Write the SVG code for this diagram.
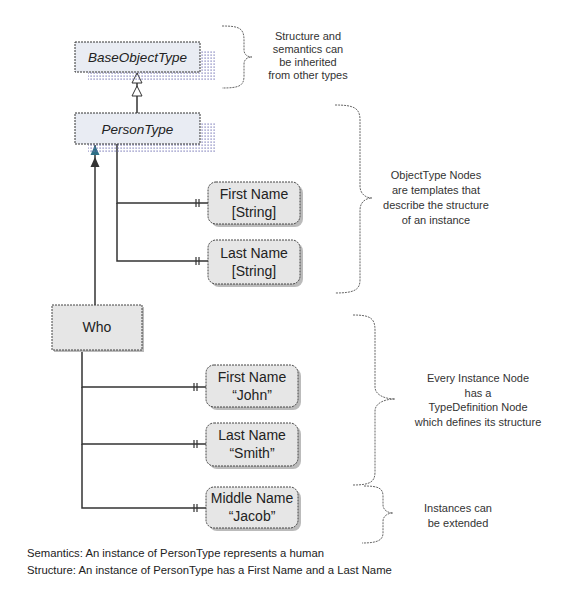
<svg xmlns="http://www.w3.org/2000/svg" width="571" height="592" viewBox="0 0 571 592">
<style>
.bg{fill:#ffffff}
.type{fill:#e9ecf3;stroke:#333;stroke-width:1;stroke-dasharray:2 1}
.inst{fill:#e6e6e6;stroke:#444;stroke-width:1;stroke-dasharray:2 1}
.ishadow{fill:#bbbbbb}
.tshadow{fill:url(#dots)}
.conn{fill:none;stroke:#333;stroke-width:1.5}
.brace{fill:none;stroke:#666;stroke-width:1;stroke-dasharray:2 1}
.tt{font-family:"Liberation Sans",Arial,sans-serif;font-size:13.5px;font-style:italic;fill:#222;text-anchor:middle}
.nt{font-family:"Liberation Sans",Arial,sans-serif;font-size:14px;fill:#222;text-anchor:middle}
.note{font-family:"Liberation Sans",Arial,sans-serif;font-size:11px;fill:#333;text-anchor:middle}
.foot{font-family:"Liberation Sans",Arial,sans-serif;font-size:11.3px;fill:#222}
</style>
<defs>
<pattern id="dots" width="3" height="3" patternUnits="userSpaceOnUse">
<rect x="0.5" y="0.5" width="1.2" height="1.2" fill="#6b6bb0"/>
</pattern>
<marker id="hollow" markerUnits="userSpaceOnUse" markerWidth="12" markerHeight="12" viewBox="0 0 12 12" refX="11" refY="6" orient="auto">
<path d="M1,1 L11,6 L1,11 Z" fill="#fff" stroke="#333" stroke-width="1"/>
</marker>
<marker id="filled" markerUnits="userSpaceOnUse" markerWidth="10" markerHeight="10" viewBox="0 0 10 10" refX="10" refY="5" orient="auto">
<path d="M0,0.5 L10,5 L0,9.5 Z" fill="#333"/>
</marker>
<marker id="teal" markerUnits="userSpaceOnUse" markerWidth="10" markerHeight="10" viewBox="0 0 10 10" refX="10" refY="5" orient="auto">
<path d="M0,0.5 L10,5 L0,9.5 Z" fill="#2e6f86"/>
</marker>
<marker id="ticks" markerUnits="userSpaceOnUse" markerWidth="16" markerHeight="10" viewBox="0 0 16 10" refX="16" refY="5" orient="auto">
<path d="M4,1 V9 M7,1 V9" fill="none" stroke="#333" stroke-width="1.2"/>
</marker>
</defs>
<rect class="bg" x="0" y="0" width="571" height="592"/>

<g id="connectors">
<path class="conn" d="M137,113 V86" marker-end="url(#hollow)"/>
<path class="conn" d="M137,86 V73" marker-end="url(#hollow)"/>
<path class="conn" d="M95,305 V157" marker-end="url(#filled)"/>
<path class="conn" d="M95,157 V145" marker-end="url(#teal)"/>
<path class="conn" d="M117,144 V203 H208" marker-end="url(#ticks)"/>
<path class="conn" d="M117,203 V261 H208" marker-end="url(#ticks)"/>
<path class="conn" d="M82,350 V387 H206" marker-end="url(#ticks)"/>
<path class="conn" d="M82,387 V444 H206" marker-end="url(#ticks)"/>
<path class="conn" d="M82,444 V508 H206" marker-end="url(#ticks)"/>
</g>

<g id="BaseObjectType">
<rect class="tshadow" x="88" y="51" width="127" height="29"/>
<rect class="type" x="75" y="42" width="125" height="30"/>
<text class="tt" x="137.5" y="62">BaseObjectType</text>
</g>

<g id="PersonType">
<rect class="tshadow" x="88" y="122" width="127" height="30"/>
<rect class="type" x="75" y="113" width="125" height="31"/>
<text class="tt" x="137.5" y="134">PersonType</text>
</g>

<g id="FirstNameString">
<rect class="ishadow" x="211" y="185" width="92" height="42" rx="8"/>
<rect class="inst" x="208" y="182" width="92" height="42" rx="8"/>
<text class="nt" x="254" y="199">First Name</text>
<text class="nt" x="254" y="217">[String]</text>
</g>

<g id="LastNameString">
<rect class="ishadow" x="211" y="243" width="92" height="44" rx="8"/>
<rect class="inst" x="208" y="240" width="92" height="44" rx="8"/>
<text class="nt" x="254" y="258">Last Name</text>
<text class="nt" x="254" y="276">[String]</text>
</g>

<g id="Who">
<rect class="ishadow" x="54" y="307" width="90" height="45"/>
<rect class="inst" x="52" y="305" width="90" height="45"/>
<text class="nt" x="97" y="332">Who</text>
</g>

<g id="FirstNameJohn">
<rect class="ishadow" x="209" y="368" width="92" height="42" rx="8"/>
<rect class="inst" x="206" y="365" width="92" height="42" rx="8"/>
<text class="nt" x="252" y="382">First Name</text>
<text class="nt" x="252" y="400">“John”</text>
</g>

<g id="LastNameSmith">
<rect class="ishadow" x="209" y="426" width="92" height="43" rx="8"/>
<rect class="inst" x="206" y="423" width="92" height="43" rx="8"/>
<text class="nt" x="252" y="440">Last Name</text>
<text class="nt" x="252" y="458">“Smith”</text>
</g>

<g id="MiddleNameJacob">
<rect class="ishadow" x="209" y="490" width="92" height="41" rx="8"/>
<rect class="inst" x="206" y="487" width="92" height="41" rx="8"/>
<text class="nt" x="252" y="503">Middle Name</text>
<text class="nt" x="252" y="521">“Jacob”</text>
</g>

<g id="braces">
<path class="brace" d="M222,26 C239,26 244,28 244,40 L244,50 C244,55 248,57 252,57 C248,57 244,59 244,64 L244,76 C244,86 239,88 222,88"/>
<path class="brace" d="M335,105 C354,105 360,108 360,120 L360,186 C360,194 366,198 372,198 C366,198 360,202 360,210 L360,280 C360,290 354,293 335,293"/>
<path class="brace" d="M353,315 C370,315 375,318 375,330 L375,387 C375,395 385,399 395,399 C385,399 375,403 375,411 L375,472 C375,482 370,485 353,485"/>
<path class="brace" d="M364,486 C378,486 383,488 383,496 L383,505 C383,510 388,513 393,513 C388,513 383,516 383,521 L383,533 C383,540 378,543 362,543"/>
</g>

<g id="notes">
<text class="note" x="308" y="40">Structure and</text>
<text class="note" x="308" y="53">semantics can</text>
<text class="note" x="308" y="66">be inherited</text>
<text class="note" x="308" y="79">from other types</text>
<text class="note" x="436" y="179">ObjectType Nodes</text>
<text class="note" x="436" y="194">are templates that</text>
<text class="note" x="436" y="209">describe the structure</text>
<text class="note" x="436" y="224">of an instance</text>
<text class="note" x="478" y="382">Every Instance Node</text>
<text class="note" x="478" y="397">has a</text>
<text class="note" x="478" y="411">TypeDefinition Node</text>
<text class="note" x="478" y="426">which defines its structure</text>
<text class="note" x="458" y="512">Instances can</text>
<text class="note" x="458" y="527">be extended</text>
<text class="foot" x="27" y="557">Semantics: An instance of PersonType represents a human</text>
<text class="foot" x="27" y="574">Structure:  An instance of PersonType has a First Name and a Last Name</text>
</g>
</svg>
